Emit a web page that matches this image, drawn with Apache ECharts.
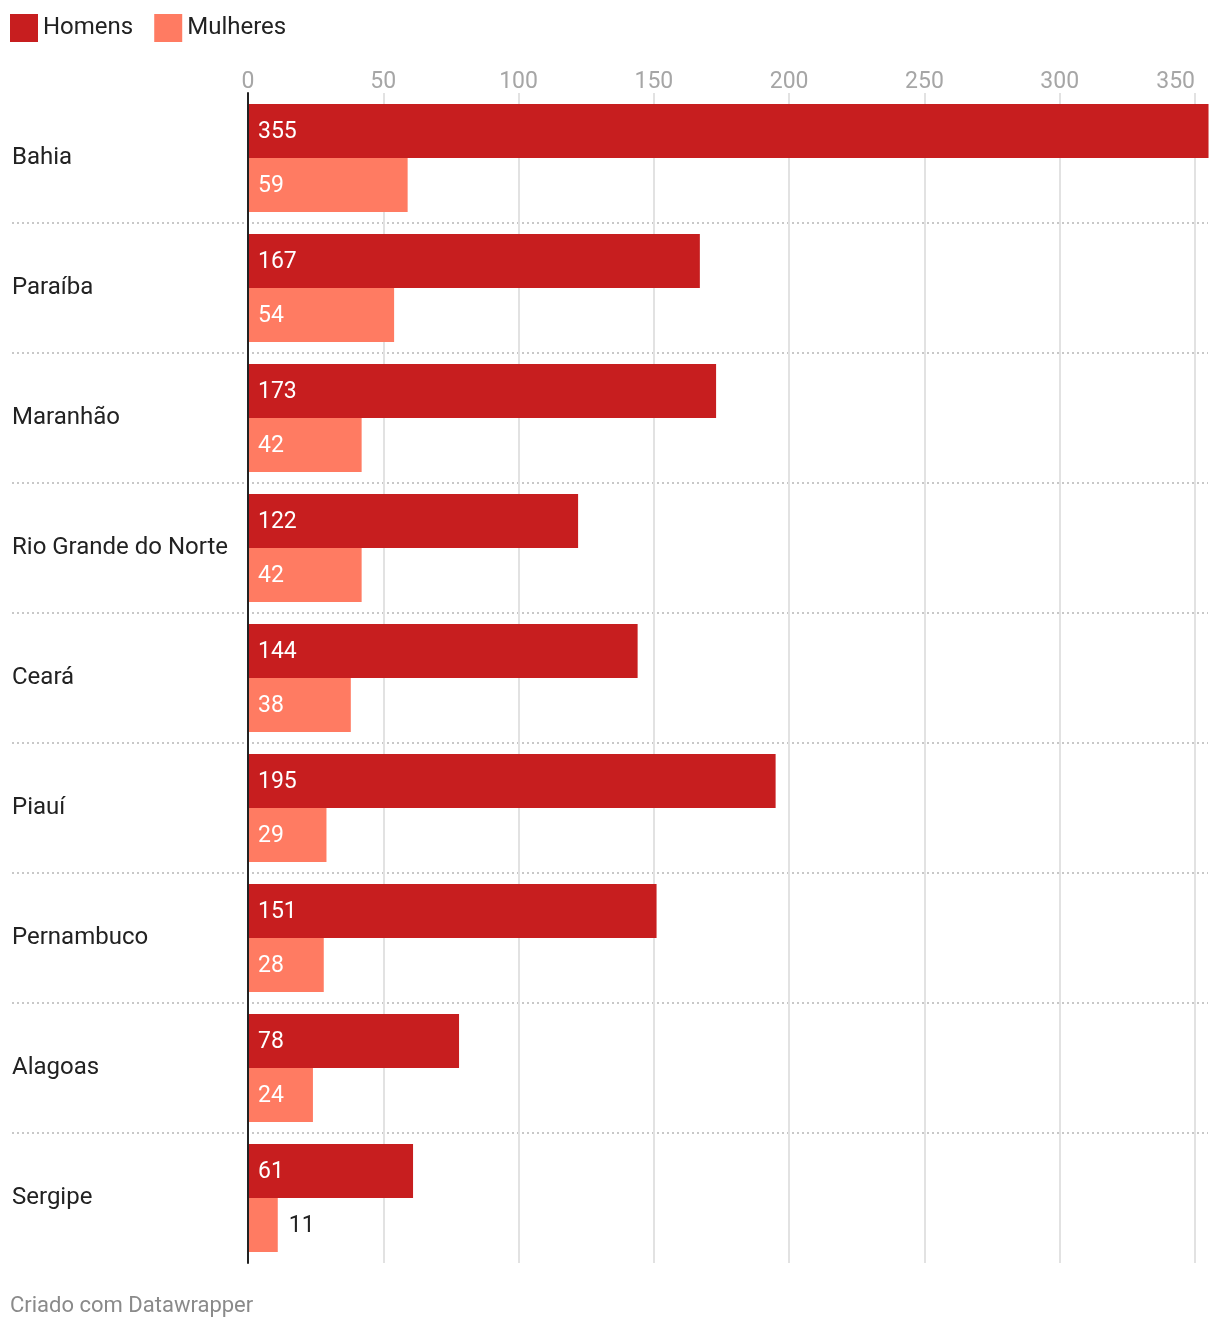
<!DOCTYPE html>
<html><head><meta charset="utf-8">
<script src="https://cdn.jsdelivr.net/npm/echarts@6/dist/echarts.min.js"></script>
<style>html,body{margin:0;padding:0;background:#fff}#c{width:1220px;height:1330px}</style>
</head><body><div id="c"></div>
<script>
const categories = ["Bahia","Paraíba","Maranhão","Rio Grande do Norte","Ceará","Piauí","Pernambuco","Alagoas","Sergipe"];
const homens = [355,167,173,122,144,195,151,78,61];
const mulheres = [59,54,42,42,38,29,28,24,11];
const xTicks = {min:0, max:350, interval:50};

const FONT = 'Roboto';
function items(vals){
  return vals.map(v => v < 15 ? {value:v, label:{position:'right', color:'#222', distance:11}} : v);
}
const chart = echarts.init(document.getElementById('c'));
chart.setOption({
  animation:false,
  textStyle:{fontFamily:FONT},
  title:{text:'Criado com Datawrapper', left:10, top:1295, padding:0, textStyle:{fontFamily:FONT, fontSize:22, fontWeight:'normal', color:'#8a8a8a'}},
  legend:{left:10, top:14, padding:0, itemWidth:28, itemHeight:28, itemGap:21, icon:'rect',
    textStyle:{fontFamily:FONT, fontSize:24, color:'#222'}, data:['Homens','Mulheres']},
  grid:[
    {left:248, top:93, width:947, height:1170},
    {left:12, top:93, width:1196, height:1170}
  ],
  xAxis:[
    {type:'value', gridIndex:0, position:'top', min:xTicks.min, max:xTicks.max, interval:xTicks.interval,
      axisLine:{show:false}, axisTick:{show:false},
      axisLabel:{fontFamily:FONT, fontSize:23, color:'#a6a6a6', margin:-1, alignMaxLabel:'right'},
      splitLine:{show:true, lineStyle:{color:'#e2e2e2', width:2}}},
    {type:'value', gridIndex:1, show:false, min:0, max:1, splitLine:{show:false}}
  ],
  yAxis:[
    {type:'category', gridIndex:0, data:categories, inverse:true,
      axisLine:{show:true, lineStyle:{color:'#222', width:2}}, axisTick:{show:false},
      axisLabel:{fontFamily:FONT, fontSize:24, color:'#222', margin:236, align:'left', padding:[3,0,0,0]},
      splitLine:{show:false}, z:5},
    {type:'category', gridIndex:1, data:categories, inverse:true,
      axisLine:{show:false}, axisTick:{show:false}, axisLabel:{show:false},
      splitLine:{show:true, showMinLine:false, showMaxLine:false, lineStyle:{color:'#c8c8c8', width:2, type:[2,3]}}}
  ],
  series:[
    {name:'Homens', type:'bar', xAxisIndex:0, yAxisIndex:0, data:items(homens), barWidth:54, barGap:'0%', clip:false,
      itemStyle:{color:'#c71e1f'},
      label:{show:true, position:'insideLeft', distance:10, offset:[0,1], color:'#fff', fontFamily:FONT, fontSize:23}},
    {name:'Mulheres', type:'bar', xAxisIndex:0, yAxisIndex:0, data:items(mulheres), barWidth:54, barGap:'0%', clip:false,
      itemStyle:{color:'#ff7b62'},
      label:{show:true, position:'insideLeft', distance:10, offset:[0,1], color:'#fff', fontFamily:FONT, fontSize:23}}
  ]
});
</script></body></html>
